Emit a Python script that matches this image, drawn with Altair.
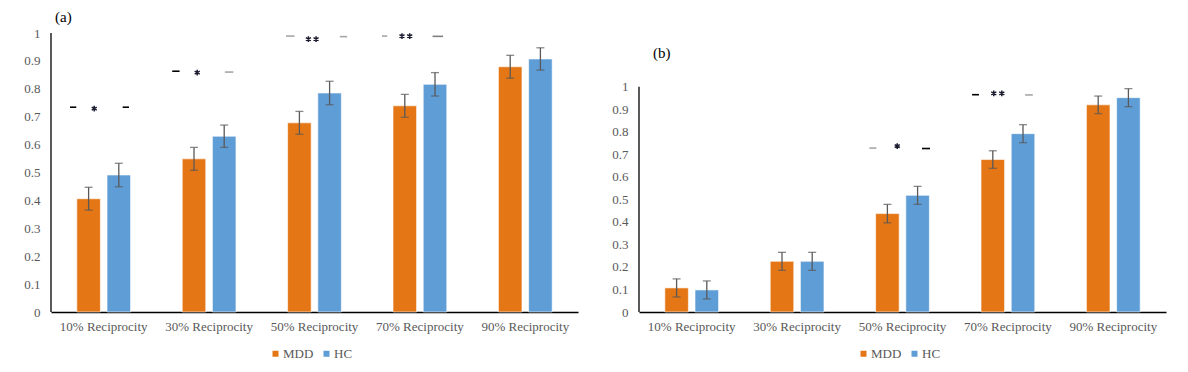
import altair as alt
import pandas as pd

categories = ["10% Reciprocity", "30% Reciprocity", "50% Reciprocity",
              "70% Reciprocity", "90% Reciprocity"]
groups = ["MDD", "HC"]
colors = ["#E47615", "#5E9DD6"]

# Panel (a)
a_mdd = [0.406, 0.549, 0.678, 0.739, 0.879]
a_hc = [0.491, 0.630, 0.785, 0.816, 0.907]
a_err_mdd = [0.041, 0.041, 0.041, 0.041, 0.041]
a_err_hc = [0.042, 0.040, 0.042, 0.042, 0.040]

# Panel (b)
b_mdd = [0.107, 0.225, 0.437, 0.677, 0.920]
b_hc = [0.098, 0.225, 0.518, 0.792, 0.952]
b_err_mdd = [0.040, 0.040, 0.041, 0.039, 0.039]
b_err_hc = [0.040, 0.040, 0.040, 0.040, 0.040]

# significance marks (x in category units 0..5)
a_dash_x1 = [0.18, 0.68, 1.15, 1.65, 2.23, 2.74, 3.14, 3.62]
a_dash_x2 = [0.24, 0.74, 1.22, 1.73, 2.31, 2.81, 3.19, 3.72]
a_dash_y = [0.734, 0.734, 0.863, 0.860, 0.989, 0.987, 0.989, 0.988]
a_dash_c = ["#000000", "#000000", "#000000", "#a6a6a6", "#a6a6a6", "#a6a6a6", "#a6a6a6", "#808080"]
a_star_x = [0.41, 1.387, 2.442, 2.515, 3.330, 3.403]
a_star_y = [0.729, 0.858, 0.978, 0.978, 0.989, 0.989]

b_dash_x1 = [2.186, 2.685, 3.160, 3.663]
b_dash_x2 = [2.252, 2.761, 3.226, 3.736]
b_dash_y = [0.728, 0.726, 0.965, 0.964]
b_dash_c = ["#a6a6a6", "#000000", "#000000", "#a6a6a6"]
b_star_x = [2.450, 3.366, 3.442]
b_star_y = [0.737, 0.971, 0.971]

y_ticks = [0, 0.1, 0.2, 0.3, 0.4, 0.5, 0.6, 0.7, 0.8, 0.9, 1]

FONT = "Liberation Serif"
LABEL = "#595959"
W, H = 527, 279
STAR = "M0,-1L0,1M-0.87,-0.5L0.87,0.5M-0.87,0.5L0.87,-0.5"


def panel(mdd, hc, emdd, ehc, dx1, dx2, dy, dc, sx, sy, ymax, tag, tag_x, tag_y):
    rows = []
    for i, c in enumerate(categories):
        rows.append({"category": c, "group": "MDD", "value": mdd[i],
                     "lo": mdd[i] - emdd[i], "hi": mdd[i] + emdd[i]})
        rows.append({"category": c, "group": "HC", "value": hc[i],
                     "lo": hc[i] - ehc[i], "hi": hc[i] + ehc[i]})
    df = pd.DataFrame(rows)
    dashes = pd.DataFrame({"x1": dx1, "x2": dx2, "y": dy, "c": dc})
    stars = pd.DataFrame({"x": sx, "y": sy})
    axisdf = pd.DataFrame({"x": [0], "y0": [0], "y1": [1]})

    yscale = alt.Scale(domain=[0, ymax], nice=False, zero=True)
    yaxis = alt.Axis(values=y_ticks, format="~g", title=None)
    x = alt.X("category:N", sort=categories,
              scale=alt.Scale(paddingInner=0.49, paddingOuter=0.245),
              axis=alt.Axis(title=None, labelAngle=0))
    xo = alt.XOffset("group:N", sort=groups,
                     scale=alt.Scale(paddingInner=0.22, paddingOuter=0))

    base = alt.Chart(df)
    bars = base.mark_bar(stroke="white", strokeWidth=1, strokeOpacity=0.6).encode(
        x=x, xOffset=xo,
        y=alt.Y("value:Q", scale=yscale, axis=yaxis),
        color=alt.Color("group:N", sort=groups,
                        scale=alt.Scale(domain=groups, range=colors),
                        legend=alt.Legend(orient="none", legendX=218, legendY=314,
                                          direction="horizontal", title=None,
                                          symbolType="square", symbolSize=36,
                                          symbolStrokeWidth=0, columnPadding=6,
                                          labelOffset=1, padding=0)),
    )
    err = base.mark_rule(color="#595959", strokeWidth=1.3).encode(
        x=x, xOffset=xo,
        y=alt.Y("lo:Q", scale=yscale, axis=yaxis), y2="hi:Q")
    cap_lo = base.mark_tick(orient="horizontal", size=8, thickness=1.3,
                            color="#595959").encode(
        x=x, xOffset=xo, y=alt.Y("lo:Q", scale=yscale, axis=yaxis))
    cap_hi = base.mark_tick(orient="horizontal", size=8, thickness=1.3,
                            color="#595959").encode(
        x=x, xOffset=xo, y=alt.Y("hi:Q", scale=yscale, axis=yaxis))
    inner = alt.layer(bars, err, cap_lo, cap_hi)

    xq = alt.Scale(domain=[0, 5], nice=False, zero=False)
    dash_layer = alt.Chart(dashes).mark_rule(strokeWidth=1.6).encode(
        x=alt.X("x1:Q", scale=xq, axis=None), x2="x2:Q",
        y=alt.Y("y:Q", scale=yscale, axis=yaxis),
        stroke=alt.Stroke("c:N", scale=None))
    star_layer = alt.Chart(stars).mark_point(
        shape=STAR, filled=False, size=34, strokeWidth=1.5, color="#1c1c30",
        opacity=1).encode(
        x=alt.X("x:Q", scale=xq, axis=None),
        y=alt.Y("y:Q", scale=yscale, axis=yaxis))
    axis_line = alt.Chart(axisdf).mark_rule(color="#000000", strokeWidth=1.3).encode(
        x=alt.X("x:Q", scale=xq, axis=None),
        y=alt.Y("y0:Q", scale=yscale, axis=yaxis), y2="y1:Q")
    annot = alt.layer(dash_layer, star_layer, axis_line)

    title = alt.Chart(pd.DataFrame({"t": [tag]})).mark_text(
        font=FONT, fontSize=15, color="#000000", align="left",
        baseline="middle").encode(text="t:N", x=alt.value(tag_x), y=alt.value(tag_y))

    return alt.layer(inner, annot, title).resolve_scale(
        x="independent").properties(width=W, height=H)


pa = panel(a_mdd, a_hc, a_err_mdd, a_err_hc, a_dash_x1, a_dash_x2, a_dash_y,
           a_dash_c, a_star_x, a_star_y, 1.0, "(a)", 4, -16)
pb = panel(b_mdd, b_hc, b_err_mdd, b_err_hc, b_dash_x1, b_dash_x2, b_dash_y,
           b_dash_c, b_star_x, b_star_y, 1.239, "(b)", 14, 20)

chart = alt.hconcat(pa, pb, spacing=61, bounds="flush").resolve_scale(
    color="independent").configure_view(stroke=None).configure_axis(
    labelFont=FONT, labelFontSize=13, labelColor=LABEL, labelOverlap=False,
    ticks=False, grid=False, domain=False, labelPadding=8
).configure_axisY(labelPadding=11).configure_axisX(
    domain=True, domainColor="#000000", domainWidth=1.3
).configure_legend(
    labelFont=FONT, labelFontSize=13, labelColor=LABEL
).properties(
    padding={"left": 15, "top": 2, "right": 5, "bottom": 5},
    background="white")

chart.save("out.html", embed_options={"renderer": "svg", "actions": False})
